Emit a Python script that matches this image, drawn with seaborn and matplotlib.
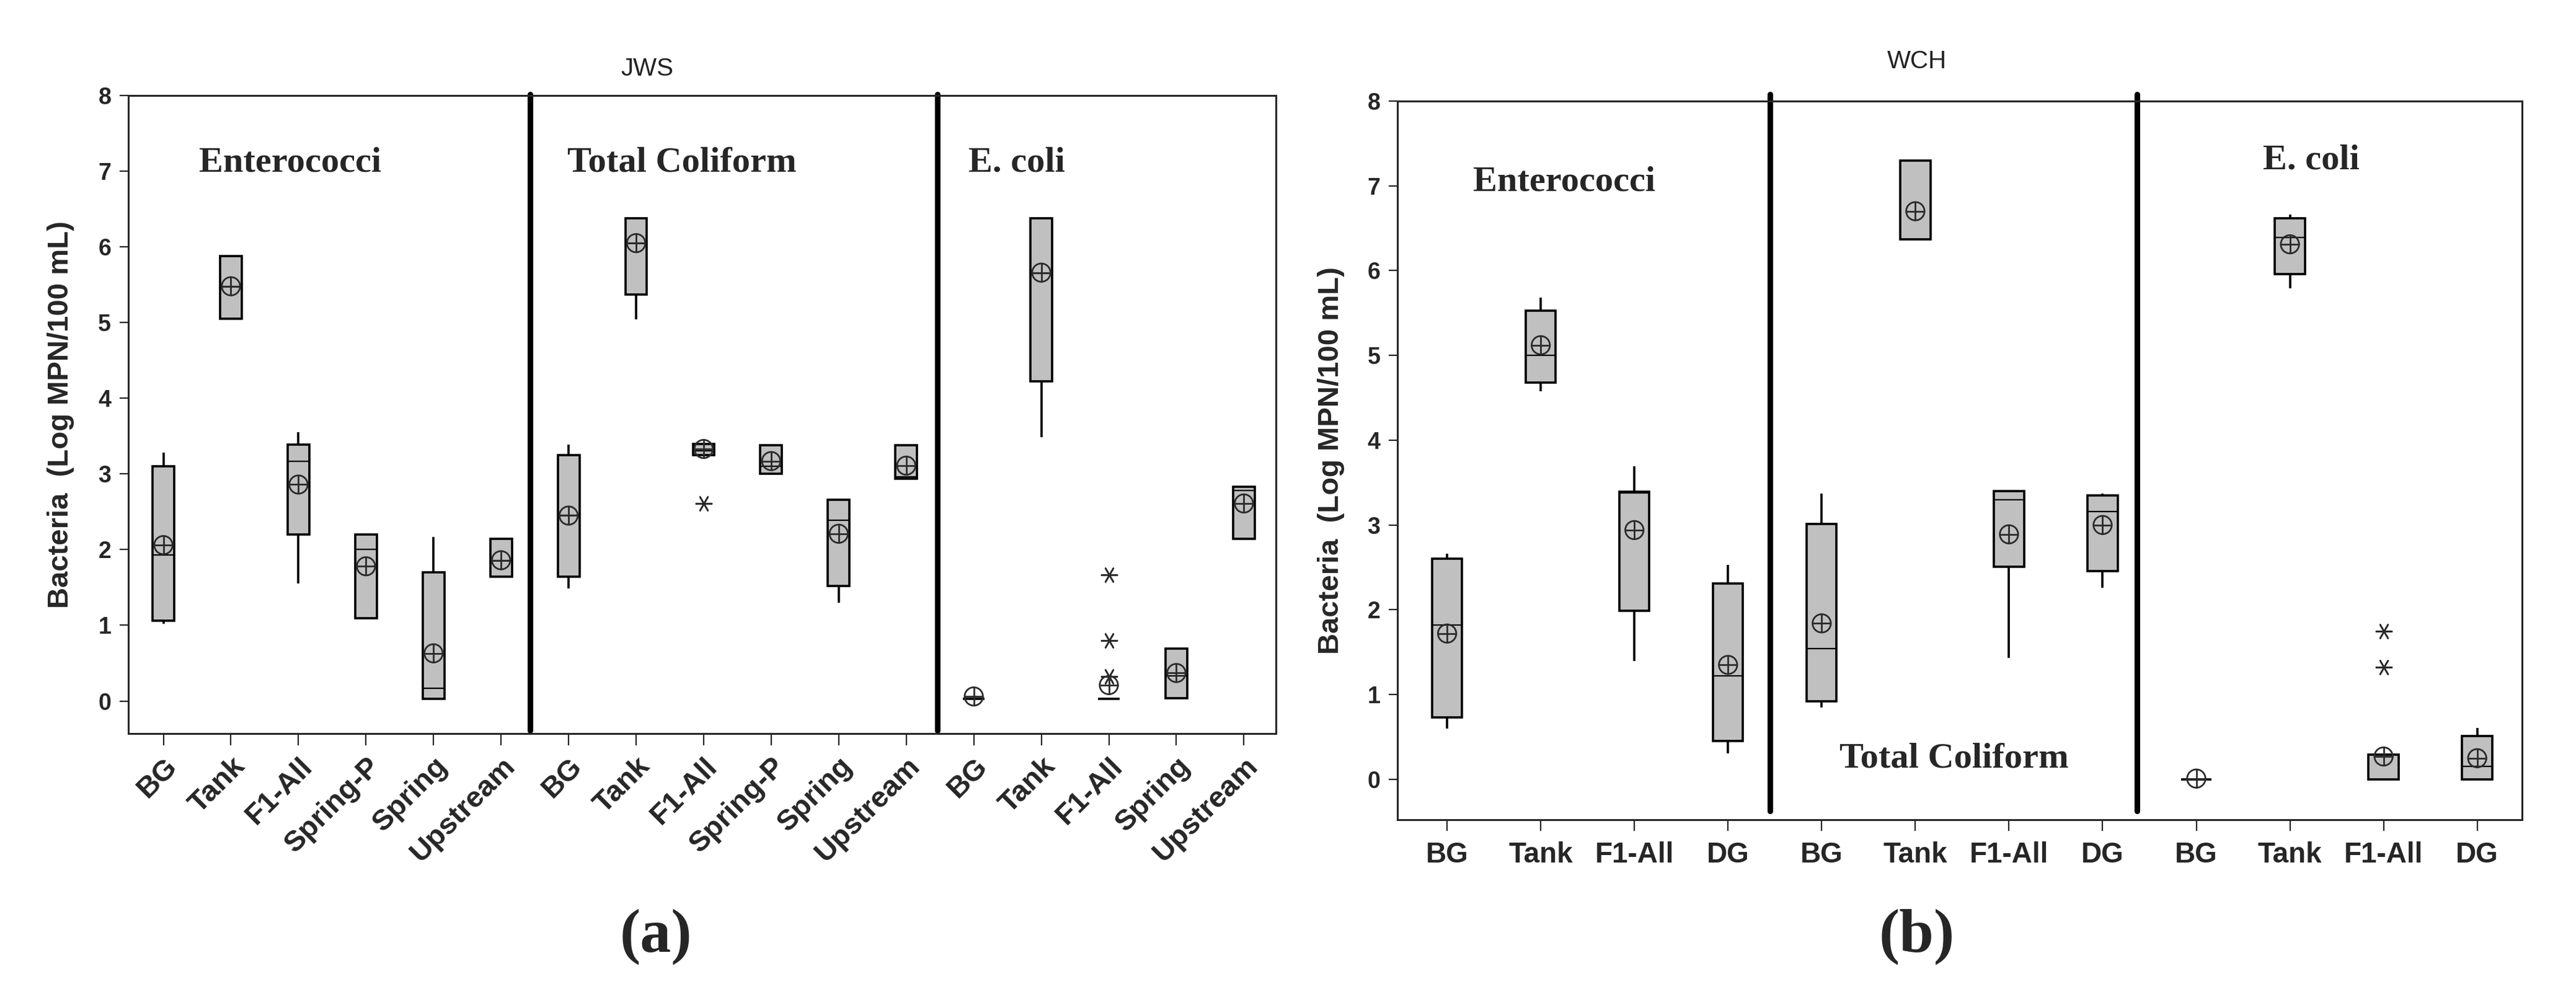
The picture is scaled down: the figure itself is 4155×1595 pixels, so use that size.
import numpy as np
import pandas as pd
import matplotlib.pyplot as plt
import seaborn as sns

# --- data (box stats, Log MPN/100 mL) ---
# panel (a) JWS : Enterococci | Total Coliform | E. coli
a_labels = ["BG", "Tank", "F1-All", "Spring-P", "Spring", "Upstream",
            "BG", "Tank", "F1-All", "Spring-P", "Spring", "Upstream",
            "BG", "Tank", "F1-All", "Spring", "Upstream"]
a_lo = [1.02, 5.05, 1.55, 1.09, 0.03, 1.64, 1.49, 5.04, 3.25, 3.00, 1.30, 2.94, 0.03, 3.49, 0.03, 0.04, 2.14]
a_q1 = [1.06, 5.05, 2.20, 1.09, 0.03, 1.64, 1.64, 5.37, 3.25, 3.00, 1.52, 2.94, 0.03, 4.22, 0.03, 0.04, 2.14]
a_med = [1.93, 5.48, 3.17, 2.00, 0.17, 1.86, 2.45, 6.05, 3.31, 3.10, 2.39, 2.96, 0.03, 5.65, 0.03, 0.33, 2.78]
a_q3 = [3.10, 5.88, 3.39, 2.20, 1.70, 2.14, 3.25, 6.38, 3.40, 3.38, 2.66, 3.38, 0.03, 6.38, 0.03, 0.69, 2.83]
a_hi = [3.28, 5.88, 3.55, 2.20, 2.17, 2.14, 3.39, 6.38, 3.40, 3.38, 2.66, 3.38, 0.03, 6.38, 0.03, 0.69, 2.83]
a_mean = [2.06, 5.48, 2.86, 1.78, 0.63, 1.86, 2.45, 6.05, 3.33, 3.17, 2.21, 3.11, 0.06, 5.66, 0.21, 0.37, 2.61]
a_out_idx = [8, 14, 14, 14]
a_out_val = [2.61, 1.67, 0.80, 0.32]

# panel (b) WCH
b_labels = ["BG", "Tank", "F1-All", "DG"] * 3
b_lo = [0.60, 4.58, 1.40, 0.31, 0.85, 6.37, 1.43, 2.26, 0.00, 5.79, 0.00, 0.00]
b_q1 = [0.73, 4.68, 1.99, 0.45, 0.92, 6.37, 2.51, 2.46, 0.00, 5.96, 0.00, 0.00]
b_med = [1.82, 5.00, 3.38, 1.22, 1.54, 6.37, 3.30, 3.16, 0.00, 6.39, 0.29, 0.15]
b_q3 = [2.60, 5.53, 3.39, 2.31, 3.01, 7.30, 3.40, 3.35, 0.00, 6.62, 0.29, 0.51]
b_hi = [2.66, 5.68, 3.69, 2.53, 3.37, 7.30, 3.40, 3.37, 0.00, 6.66, 0.29, 0.61]
b_mean = [1.72, 5.12, 2.94, 1.35, 1.84, 6.70, 2.89, 3.00, 0.01, 6.31, 0.27, 0.25]
b_out_idx = [10, 10]
b_out_val = [1.75, 1.32]

sns.set_style("ticks")
plt.rcParams["font.family"] = ["Liberation Sans", "DejaVu Sans"]

BOX_GRAY = "#c0c0c0"
MARK = "#2a2a2a"


def long_table(lo, q1, med, q3, hi):
    rows = []
    for i, vals in enumerate(zip(lo, q1, med, q3, hi)):
        for v in vals:
            rows.append({"pos": i, "val": v})
    return pd.DataFrame(rows)


def draw_panel(ax, labels, lo, q1, med, q3, hi, mean, out_idx, out_val):
    df = long_table(lo, q1, med, q3, hi)
    sns.boxplot(data=df, x="pos", y="val", orient="x", native_scale=True,
                width=0.32, whis=(0, 100), color=BOX_GRAY, saturation=1,
                linecolor="black", linewidth=2.6, showfliers=False,
                showcaps=False, medianprops=dict(linewidth=1.6), ax=ax)
    pos = np.arange(len(labels))
    # mean symbol: circle with cross
    sns.scatterplot(x=pos, y=mean, marker="o", s=450, facecolors="none",
                    edgecolor=MARK, linewidths=2.0, ax=ax, zorder=5)
    sns.scatterplot(x=pos, y=mean, marker="+", s=450, color=MARK,
                    linewidths=2.0, ax=ax, zorder=5)
    # outliers
    sns.scatterplot(x=np.array(out_idx), y=out_val, marker=(6, 2, 90), s=330,
                    color=MARK, linewidths=1.8, ax=ax, zorder=5)
    ax.set_xlabel("")
    ax.set_ylabel("Bacteria  (Log MPN/100 mL)", fontsize=34, fontweight="bold")
    ax.set_yticks(range(0, 9))
    ax.tick_params(axis="y", labelsize=27, length=10, width=1.6, pad=10)
    ax.tick_params(axis="x", length=14, width=1.6)
    for lab in ax.get_yticklabels():
        lab.set_fontweight("bold")
    for s in ax.spines.values():
        s.set_linewidth(2.2)
        s.set_visible(True)
    return pos


fig = plt.figure(figsize=(41.55, 15.95), dpi=100)
serif = dict(family="Liberation Serif", fontweight="bold", fontsize=42)

# (a)
ax1 = fig.add_axes([0.0498, 0.2583, 0.4454, 0.6451])
pos_a = draw_panel(ax1, a_labels, a_lo, a_q1, a_med, a_q3, a_hi, a_mean, a_out_idx, a_out_val)
ax1.set_xticks(pos_a, a_labels, rotation=45, ha="right", rotation_mode="anchor",
               fontsize=34, fontweight="bold")
ax1.tick_params(axis="x", pad=8)
ax1.set_xlim(-0.52, 16.47)
ax1.set_ylim(-0.43, 8)
for xd in [5.43, 11.46]:
    ax1.axvline(xd, ymin=0.005, ymax=1.002, color="black", lw=6.5, clip_on=False)
ax1.yaxis.set_label_coords(-0.047, 0.5)
ax1.text(0.53, 7.0, "Enterococci", ha="left", va="baseline", **serif)
ax1.text(5.98, 7.0, "Total Coliform", ha="left", va="baseline", **serif)
ax1.text(11.92, 7.0, "E. coli", ha="left", va="baseline", **serif)

# (b)
ax2 = fig.add_axes([0.5425, 0.1712, 0.4366, 0.7267])
pos_b = draw_panel(ax2, b_labels, b_lo, b_q1, b_med, b_q3, b_hi, b_mean, b_out_idx, b_out_val)
ax2.set_xticks(pos_b, b_labels, fontsize=33, fontweight="bold")
ax2.tick_params(axis="x", pad=12, length=13)
ax2.set_xlim(-0.53, 11.48)
ax2.set_ylim(-0.475, 8)
for xd in [3.45, 7.37]:
    ax2.axvline(xd, ymin=0.012, ymax=1.009, color="black", lw=6.5, clip_on=False)
ax2.yaxis.set_label_coords(-0.047, 0.5)
ax2.text(0.28, 6.94, "Enterococci", ha="left", va="baseline", **serif)
ax2.text(4.19, 0.146, "Total Coliform", ha="left", va="baseline", **serif)
ax2.text(8.71, 7.20, "E. coli", ha="left", va="baseline", **serif)

# titles and panel letters
fig.text(0.2513, 0.9235, "JWS", ha="center", va="baseline", fontsize=29, color="#222222")
fig.text(0.7442, 0.931, "WCH", ha="center", va="baseline", fontsize=29, color="#222222")
fig.text(0.2546, 0.0376, "(a)", ha="center", va="baseline", family="Liberation Serif",
         fontweight="bold", fontsize=72)
fig.text(0.7442, 0.0376, "(b)", ha="center", va="baseline", family="Liberation Serif",
         fontweight="bold", fontsize=72)

fig.savefig("out.png", dpi=100)
